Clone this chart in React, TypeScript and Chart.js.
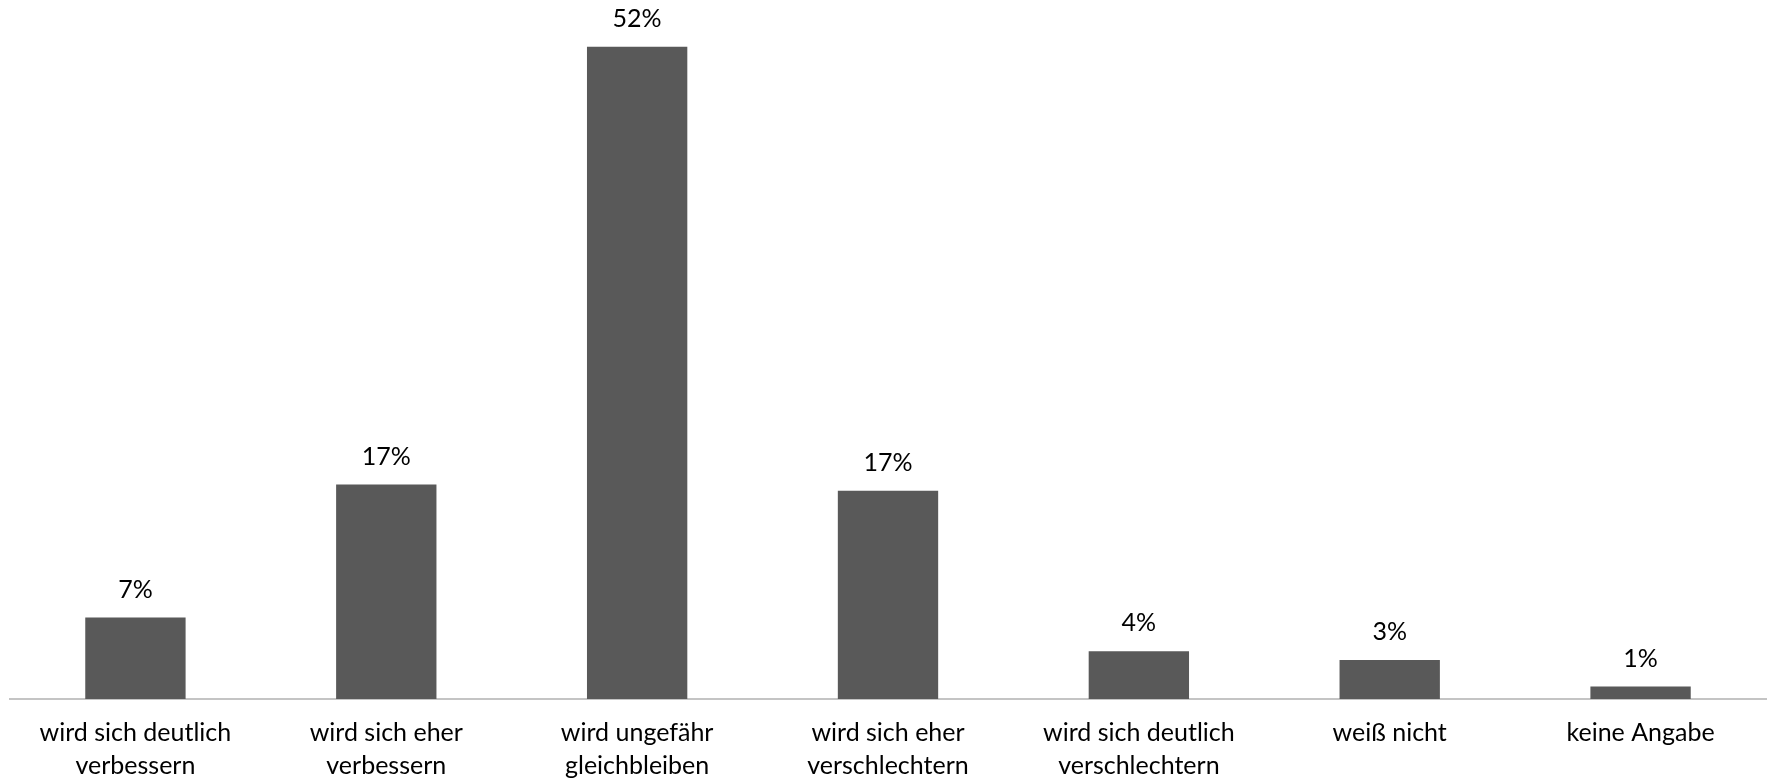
import React, { useEffect, useRef } from "react";
import { Chart, registerables } from "chart.js";

Chart.register(...registerables);

// Answer categories (two-line labels on the category axis)
const categories: string[][] = [
  ["wird sich deutlich", "verbessern"],
  ["wird sich eher", "verbessern"],
  ["wird ungefähr", "gleichbleiben"],
  ["wird sich eher", "verschlechtern"],
  ["wird sich deutlich", "verschlechtern"],
  ["weiß nicht"],
  ["keine Angabe"],
];

// Share of respondents in percent
const shares: number[] = [6.5, 17.1, 52.0, 16.6, 3.8, 3.1, 1.0];

const Y_MAX = 55;
const FONT_FAMILY = "Lato, 'Open Sans', sans-serif";
const BAR_COLOR = "#595959";

// Draws the rounded percentage above every bar
const valueLabels = {
  id: "valueLabels",
  afterDatasetsDraw(chart: Chart) {
    const ctx = chart.ctx;
    const meta = chart.getDatasetMeta(0);
    const data = chart.data.datasets[0].data as number[];
    ctx.save();
    ctx.fillStyle = "#000000";
    ctx.font = `25px ${FONT_FAMILY}`;
    ctx.textAlign = "center";
    ctx.textBaseline = "middle";
    meta.data.forEach((bar: any, i: number) => {
      ctx.fillText(`${Math.round(data[i])}%`, bar.x, bar.y - 28);
    });
    ctx.restore();
  },
};

export default function App() {
  const canvasRef = useRef<HTMLCanvasElement | null>(null);

  useEffect(() => {
    if (!canvasRef.current) return;
    const chart = new Chart(canvasRef.current, {
      type: "bar",
      data: {
        labels: categories,
        datasets: [
          {
            data: shares,
            backgroundColor: BAR_COLOR,
            borderWidth: 0,
            barPercentage: 0.4,
            categoryPercentage: 1,
          },
        ],
      },
      options: {
        animation: false,
        responsive: false,
        maintainAspectRatio: false,
        devicePixelRatio: 1,
        layout: { padding: { top: 9, left: 10, right: 3, bottom: 0 } },
        plugins: {
          legend: { display: false },
          tooltip: { enabled: false },
          title: { display: false },
        },
        scales: {
          x: {
            grid: { display: false, drawTicks: false },
            border: { display: true, color: "#C4C4C4", width: 2 },
            ticks: {
              color: "#000000",
              font: { family: FONT_FAMILY, size: 25, lineHeight: 1.34 },
              padding: 17,
              maxRotation: 0,
              autoSkip: false,
            },
            afterFit: (scale: any) => {
              scale.height = 79;
            },
          },
          y: {
            display: false,
            min: 0,
            max: Y_MAX,
          },
        },
      },
      plugins: [valueLabels],
    });
    return () => chart.destroy();
  }, []);

  return (
    <div style={{ position: "absolute", left: 0, top: 0, width: 1769, height: 778, background: "#ffffff" }}>
      <canvas ref={canvasRef} width={1769} height={778} style={{ display: "block" }} />
    </div>
  );
}
